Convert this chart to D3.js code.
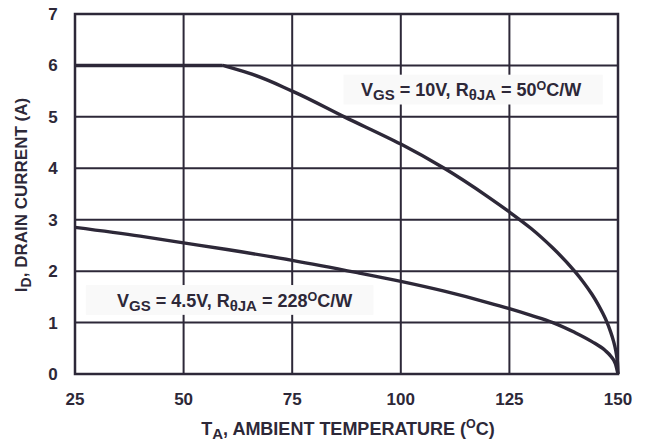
<!DOCTYPE html>
<html>
<head>
<meta charset="utf-8">
<script src="https://cdn.jsdelivr.net/npm/d3@7"></script>
<style>
  body { margin: 0; background: #fff; }
  text { font-family: "Liberation Sans", Arial, sans-serif; font-weight: bold; fill: #2d2838; }
</style>
</head>
<body>
<svg id="chart" width="648" height="441"></svg>
<script>
// tick values
var xTicks = [25, 50, 75, 100, 125, 150];
var yTicks = [0, 1, 2, 3, 4, 5, 6, 7];

// VGS = 10V curve (temperature, current)
var temp10 = [25, 59, 65, 75, 87, 100, 110, 120, 125, 130, 135, 140, 142, 144, 145.5, 146.5, 147.5, 148.3, 149, 149.5, 149.85, 150];
var amps10 = [6.0, 6.0, 5.85, 5.5, 5.0, 4.47, 4.0, 3.45, 3.15, 2.83, 2.45, 2.0, 1.79, 1.55, 1.34, 1.18, 1.0, 0.82, 0.63, 0.45, 0.25, 0];

// VGS = 4.5V curve
var temp45 = [25, 40, 50, 60, 75, 90, 100, 110, 120, 125, 130, 135, 140, 144, 147, 148.4, 149.4, 150];
var amps45 = [2.85, 2.68, 2.55, 2.42, 2.21, 1.97, 1.8, 1.61, 1.39, 1.27, 1.14, 1.0, 0.81, 0.63, 0.46, 0.34, 0.2, 0];

// label boxes: [t0, t1, iTop, iBottom]
var box10 = [86.8, 146.5, 5.82, 5.24];
var box45 = [27.5, 93.7, 1.73, 1.15];

var colour = "#2d2838";

var margin = {top: 14, right: 30, bottom: 67, left: 75},
    svg = d3.select("#chart"),
    width = +svg.attr("width") - margin.left - margin.right,
    height = +svg.attr("height") - margin.top - margin.bottom;

var x = d3.scaleLinear().domain([25, 150]).range([0, width]),
    y = d3.scaleLinear().domain([0, 7]).range([height, 0]);

var g = svg.append("g")
    .attr("transform", "translate(" + margin.left + "," + margin.top + ")");

// gridlines
g.append("g")
  .selectAll("line")
  .data(xTicks)
  .enter().append("line")
    .attr("x1", d => x(d)).attr("x2", d => x(d))
    .attr("y1", 0).attr("y2", height)
    .attr("stroke", colour).attr("stroke-width", 2);

g.append("g")
  .selectAll("line")
  .data(yTicks)
  .enter().append("line")
    .attr("x1", 0).attr("x2", width)
    .attr("y1", d => y(d)).attr("y2", d => y(d))
    .attr("stroke", colour).attr("stroke-width", 2);

g.append("rect")
    .attr("width", width).attr("height", height)
    .attr("fill", "none").attr("stroke", colour).attr("stroke-width", 2.5);

// label boxes (drawn over the grid)
function label(b, shift, parts) {
  var px = x(b[0]), py = y(b[2]), w = x(b[1]) - x(b[0]), h = y(b[3]) - y(b[2]);
  g.append("rect")
      .attr("x", px).attr("y", py).attr("width", w).attr("height", h)
      .attr("fill", "#f9f9f9");
  var t = g.append("text")
      .attr("x", px + w / 2 + shift).attr("y", py + 21.5)
      .attr("text-anchor", "middle")
      .style("font-size", "18px");
  parts.forEach(function(p) {
    var s = t.append("tspan").text(p[0]);
    if (p[1] == "sub") s.attr("dy", 4).style("font-size", "15px");
    if (p[1] == "sup") s.attr("dy", -6).style("font-size", "12.5px");
    if (p[1] == "back") s.attr("dy", -4);
    if (p[1] == "down") s.attr("dy", 6);
  });
}

// draw curves
var lineX = d3.line()
    .x(d => x(d[0]))
    .y(d => y(d[1]))
    .curve(d3.curveMonotoneX);

// falling part is steep near 150, so interpolate it along y
var lineY = d3.line()
    .x(d => x(d[0]))
    .y(d => y(d[1]))
    .curve(d3.curveMonotoneY);

var pts10 = d3.zip(temp10, amps10);
g.append("path")
    .datum(pts10.slice(0, 2))
    .attr("d", lineX)
    .attr("fill", "none").attr("stroke", colour).attr("stroke-width", 3.4);
g.append("path")
    .datum(pts10.slice(1))
    .attr("d", lineY)
    .attr("fill", "none").attr("stroke", colour).attr("stroke-width", 3.4)
    .attr("stroke-linejoin", "round");

g.append("path")
    .datum(d3.zip(temp45, amps45))
    .attr("d", lineX)
    .attr("fill", "none").attr("stroke", colour).attr("stroke-width", 3.4);

label(box10, -2, [
  ["V"], ["GS", "sub"], [" = 10V, R", "back"], ["\u03b8JA", "sub"], [" = 50", "back"], ["O", "sup"], ["C/W", "down"]
]);

label(box45, 5, [
  ["V"], ["GS", "sub"], [" = 4.5V, R", "back"], ["\u03b8JA", "sub"], [" = 228", "back"], ["O", "sup"], ["C/W", "down"]
]);

// tick labels
g.selectAll(".xl")
  .data(xTicks)
  .enter().append("text")
    .attr("x", d => x(d)).attr("y", height + 31)
    .attr("text-anchor", "middle")
    .style("font-size", "17px")
    .text(d => d);

g.selectAll(".yl")
  .data(yTicks)
  .enter().append("text")
    .attr("x", -22).attr("y", d => y(d) + 6)
    .attr("text-anchor", "middle")
    .style("font-size", "17px")
    .text(d => d);

// axis titles
var xt = svg.append("text")
    .attr("x", 348).attr("y", 435)
    .attr("text-anchor", "middle")
    .style("font-size", "18px");
xt.append("tspan").text("T");
xt.append("tspan").text("A").attr("dy", 4).style("font-size", "15px");
xt.append("tspan").text(", AMBIENT TEMPERATURE (").attr("dy", -4);
xt.append("tspan").text("O").attr("dy", -7).style("font-size", "12.5px");
xt.append("tspan").text("C)").attr("dy", 7);

var yt = svg.append("text")
    .attr("transform", "translate(27,195) rotate(-90)")
    .attr("text-anchor", "middle")
    .style("font-size", "17px");
yt.append("tspan").text("I");
yt.append("tspan").text("D").attr("dy", 4).style("font-size", "14px");
yt.append("tspan").text(", DRAIN CURRENT (A)").attr("dy", -4);
</script>
</body>
</html>
